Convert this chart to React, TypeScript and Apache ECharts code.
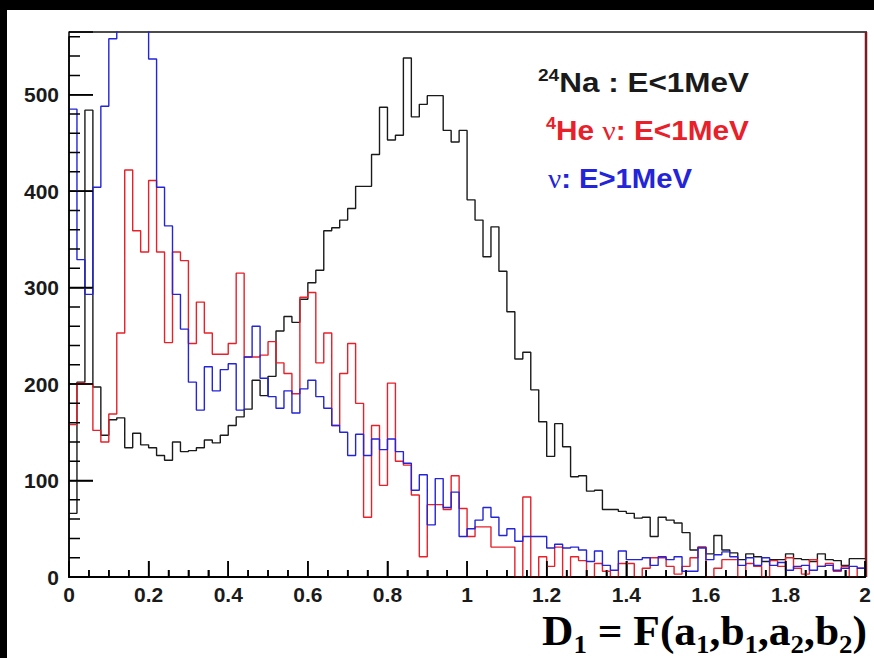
import React, { useEffect, useRef } from 'react';
import * as echarts from 'echarts';

// ---- data -------------------------------------------------------------
const X_MIN = 0;
const X_MAX = 2;
const BIN_WIDTH = 0.02;
const Y_MAX = 565;
const X_MAJOR_STEP = 0.2;
const X_MINOR_STEP = 0.05;
const Y_MAJOR_STEP = 100;
const Y_MINOR_STEP = 20;
const X_TICK_LABELS = ['0', '0.2', '0.4', '0.6', '0.8', '1', '1.2', '1.4', '1.6', '1.8', '2'];
const Y_TICK_LABELS = ['0', '100', '200', '300', '400', '500'];

// 24Na : E<1MeV (black)
const NA24_LOW = [
  66, 202, 484, 197, 147, 163, 165, 134, 149, 137,
  134, 126, 121, 140, 130, 131, 134, 142, 139, 147,
  157, 166, 174, 204, 188, 208, 255, 270, 264, 288,
  305, 318, 359, 362, 370, 382, 405, 405, 438, 487,
  453, 458, 538, 477, 490, 499, 499, 463, 451, 463,
  391, 370, 332, 363, 317, 275, 226, 233, 194, 161,
  125, 159, 135, 104, 105, 89, 90, 70, 70, 68,
  66, 61, 62, 42, 62, 59, 56, 46, 28, 31,
  24, 43, 28, 25, 18, 24, 21, 16, 18, 18,
  24, 19, 18, 16, 24, 18, 17, 12, 19, 19,
];

// 4He nu : E<1MeV (red)
const HE4_LOW = [
  158, 201, 200, 152, 140, 169, 253, 422, 359, 337,
  411, 337, 243, 337, 328, 242, 285, 253, 231, 231,
  242, 315, 228, 228, 230, 244, 222, 211, 190, 290,
  295, 222, 253, 157, 211, 242, 180, 62, 157, 95,
  201, 120, 116, 85, 21, 75, 75, 70, 105, 71,
  42, 52, 52, 31, 31, 31, 0, 83, 0, 21,
  11, 31, 0, 21, 17, 0, 14, 6, 0, 14,
  14, 0, 9, 20, 20, 11, 3, 11, 20, 31,
  0, 9, 18, 18, 0, 14, 11, 0, 17, 11,
  20, 9, 3, 18, 11, 14, 6, 11, 0, 9,
];

// nu : E>1MeV (blue)
const NU_HIGH = [
  485, 329, 293, 404, 488, 558, 640, 610, 630, 600,
  537, 404, 364, 293, 257, 202, 173, 218, 193, 215,
  221, 173, 228, 260, 206, 187, 175, 193, 170, 195,
  204, 187, 175, 157, 150, 126, 148, 126, 143, 132,
  143, 130, 118, 90, 106, 54, 102, 72, 88, 42,
  50, 59, 72, 62, 43, 50, 37, 42, 42, 42,
  30, 34, 30, 31, 28, 16, 27, 12, 7, 27,
  18, 18, 20, 12, 21, 18, 21, 6, 6, 30,
  18, 23, 26, 21, 12, 20, 12, 20, 12, 15,
  7, 11, 12, 7, 11, 12, 7, 9, 11, 9,
];

const SERIES = [
  { name: '24Na : E<1MeV', values: NA24_LOW, color: '#1a1a1a' },
  { name: '4He nu: E<1MeV', values: HE4_LOW, color: '#e8202a' },
  { name: 'nu: E>1MeV', values: NU_HIGH, color: '#2424d8' },
];

// ---- helpers ----------------------------------------------------------
function toSteps(values: number[]): number[][] {
  const pts = values.map((v, i) => [X_MIN + i * BIN_WIDTH, v]);
  pts.push([X_MIN + values.length * BIN_WIDTH, values[values.length - 1]]);
  return pts;
}

function range(start: number, end: number, step: number): number[] {
  const out: number[] = [];
  const n = Math.round((end - start) / step);
  for (let i = 0; i <= n; i++) out.push(+(start + i * step).toFixed(6));
  return out;
}

const SANS = "'Liberation Sans', Arial, Helvetica, sans-serif";
const SERIF = "'Liberation Serif', 'Times New Roman', serif";

type Piece = { text: string; size: number; family: string; weight?: string; color: string; dy?: number };

let measureCtx: CanvasRenderingContext2D | null = null;
function measure(text: string, font: string): number {
  if (!measureCtx) measureCtx = document.createElement('canvas').getContext('2d');
  measureCtx!.font = font;
  return measureCtx!.measureText(text).width;
}

function textRun(x0: number, x1: number, baseline: number, pieces: Piece[]) {
  const widths = pieces.map((p) => measure(p.text, `${p.weight || 'bold'} ${p.size}px ${p.family}`));
  const total = widths.reduce((a, b) => a + b, 0) || 1;
  const sx = (x1 - x0) / total;
  const els: any[] = [];
  let cx = x0;
  pieces.forEach((p, i) => {
    els.push({
      type: 'text',
      x: cx,
      y: baseline + (p.dy || 0) - 0.35 * p.size,
      scaleX: sx,
      silent: true,
      z: 100,
      style: {
        text: p.text,
        fill: p.color,
        fontSize: p.size,
        fontWeight: p.weight || 'bold',
        fontFamily: p.family,
        align: 'left',
        verticalAlign: 'middle',
      },
    });
    cx += widths[i] * sx;
  });
  return els;
}

// Tick "combs": polylines running along each axis that jut into the plot at every tick.
// Tick lengths are given in pixels and turned into data units via the chart's own scale.
function xTickComb(lenMajorData: number, lenMinorData: number): number[][] {
  const pts: number[][] = [];
  range(X_MIN, X_MAX, X_MINOR_STEP).forEach((v) => {
    const major = Math.abs(v / X_MAJOR_STEP - Math.round(v / X_MAJOR_STEP)) < 1e-6;
    pts.push([v, 0], [v, major ? lenMajorData : lenMinorData], [v, 0]);
  });
  return pts;
}
function yTickComb(lenMajorData: number, lenMinorData: number): number[][] {
  const pts: number[][] = [];
  range(0, 560, Y_MINOR_STEP).forEach((v) => {
    const major = v % Y_MAJOR_STEP === 0;
    pts.push([X_MIN, v], [X_MIN + (major ? lenMajorData : lenMinorData), v], [X_MIN, v]);
  });
  return pts;
}

export default function App() {
  const ref = useRef<HTMLDivElement>(null);

  useEffect(() => {
    document.body.style.margin = '0';
    const chart = echarts.init(ref.current!, undefined, { renderer: 'svg' });

    const black = SERIES[0].color;
    const red = SERIES[1].color;
    const blue = SERIES[2].color;

    const labelStyle = {
      fontFamily: SANS,
      fontWeight: 'bold' as const,
      fontSize: 21,
      color: '#1a1a1a',
    };

    const histSeries = SERIES.map((s) => ({
      type: 'line',
      name: s.name,
      step: 'end',
      data: toSteps(s.values),
      showSymbol: false,
      symbol: 'none',
      lineStyle: { color: s.color, width: 1.4 },
      itemStyle: { color: s.color },
    }));

    chart.setOption({
      animation: false,
      grid: { left: 69, right: 8, top: 32, bottom: 81 },
      xAxis: {
        type: 'value',
        min: X_MIN,
        max: X_MAX,
        interval: X_MAJOR_STEP,
        axisLine: { show: true, lineStyle: { color: '#000', width: 2 } },
        axisTick: { show: true, inside: true, length: 16, lineStyle: { color: '#000', width: 1.5 } },
        minorTick: { show: true, splitNumber: 4, length: 7, lineStyle: { color: '#000', width: 1.5 } },
        splitLine: { show: false },
        axisLabel: {
          ...labelStyle,
          margin: 7,
          formatter: (v: number) => X_TICK_LABELS[Math.round(v / X_MAJOR_STEP)] ?? '',
        },
      },
      yAxis: {
        type: 'value',
        min: 0,
        max: Y_MAX,
        interval: Y_MAJOR_STEP,
        axisLine: { show: true, lineStyle: { color: '#000', width: 1.5 } },
        axisTick: { show: true, inside: true, length: 24, lineStyle: { color: '#000', width: 1.5 } },
        splitLine: { show: false },
        axisLabel: {
          ...labelStyle,
          margin: 10,
          formatter: (v: number) => {
            if (Math.abs(v % Y_MAJOR_STEP) > 1e-6) return '';
            return Y_TICK_LABELS[Math.round(v / Y_MAJOR_STEP)] ?? '';
          },
        },
      },
      series: histSeries,
    });

    // pixel -> data conversion factors from the chart's own scales
    const p00 = chart.convertToPixel({ gridIndex: 0 }, [0, 0]) as number[];
    const p11 = chart.convertToPixel({ gridIndex: 0 }, [1, 100]) as number[];
    const pxPerX = p11[0] - p00[0];
    const pxPerY = (p00[1] - p11[1]) / 100;

    const tickLine = { color: '#000', width: 1.5 };
    chart.setOption({
      series: [
        ...histSeries,
        {
          type: 'line',
          name: 'xticks',
          data: xTickComb(16 / pxPerY, 7 / pxPerY),
          showSymbol: false,
          symbol: 'none',
          silent: true,
          clip: false,
          z: 4,
          lineStyle: tickLine,
          itemStyle: { color: '#000' },
        },
        {
          type: 'line',
          name: 'yticks',
          data: yTickComb(24 / pxPerX, 11 / pxPerX),
          showSymbol: false,
          symbol: 'none',
          silent: true,
          clip: false,
          z: 4,
          lineStyle: tickLine,
          itemStyle: { color: '#000' },
        },
      ],
      graphic: [
        { type: 'rect', shape: { x: 0, y: 0, width: 874, height: 10 }, style: { fill: '#000' } },
        { type: 'rect', shape: { x: 0, y: 0, width: 7, height: 658 }, style: { fill: '#000' } },
        { type: 'line', shape: { x1: 69, y1: 32, x2: 867, y2: 32 }, style: { stroke: '#111', lineWidth: 1.5 } },
        { type: 'line', shape: { x1: 866, y1: 32, x2: 866, y2: 577 }, style: { stroke: '#7a1c22', lineWidth: 2.5 } },
        ...textRun(538, 749, 92, [
          { text: '24', size: 17, family: SANS, color: black, dy: -11 },
          { text: 'Na : E<1MeV', size: 28, family: SANS, color: black },
        ]),
        ...textRun(546, 749, 140, [
          { text: '4', size: 17, family: SANS, color: red, dy: -11 },
          { text: 'He ', size: 28, family: SANS, color: red },
          { text: 'ν', size: 28, family: SERIF, weight: 'normal', color: red },
          { text: ': E<1MeV', size: 28, family: SANS, color: red },
        ]),
        ...textRun(548, 692, 188, [
          { text: 'ν', size: 28, family: SERIF, weight: 'normal', color: blue },
          { text: ': E>1MeV', size: 28, family: SANS, color: blue },
        ]),
        ...textRun(542, 867, 645, [
          { text: 'D', size: 42, family: SERIF, color: '#000' },
          { text: '1', size: 26, family: SERIF, color: '#000', dy: 8 },
          { text: ' = F(a', size: 42, family: SERIF, color: '#000' },
          { text: '1', size: 26, family: SERIF, color: '#000', dy: 8 },
          { text: ',b', size: 42, family: SERIF, color: '#000' },
          { text: '1', size: 26, family: SERIF, color: '#000', dy: 8 },
          { text: ',a', size: 42, family: SERIF, color: '#000' },
          { text: '2', size: 26, family: SERIF, color: '#000', dy: 8 },
          { text: ',b', size: 42, family: SERIF, color: '#000' },
          { text: '2', size: 26, family: SERIF, color: '#000', dy: 8 },
          { text: ')', size: 42, family: SERIF, color: '#000' },
        ]),
      ],
    });

    return () => chart.dispose();
  }, []);

  return <div ref={ref} style={{ width: 874, height: 658 }} />;
}
